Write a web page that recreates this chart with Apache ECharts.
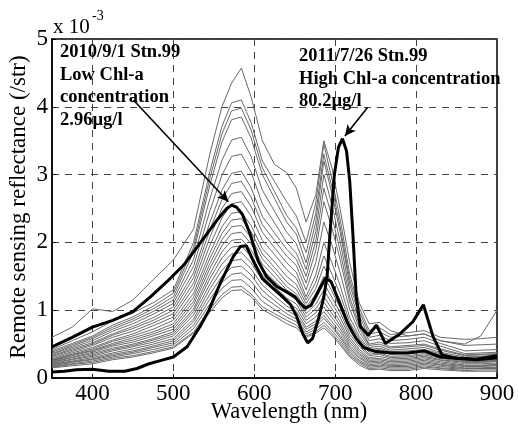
<!DOCTYPE html>
<html><head><meta charset="utf-8">
<script src="https://cdn.jsdelivr.net/npm/echarts@6/dist/echarts.min.js"></script>
<style>html,body{margin:0;padding:0;background:#fff}#c{width:518px;height:426px}</style>
</head><body><div id="c"></div>
<script>
// Wavelength grid for the grey spectra (nm)
const wavelengths = [350,375,400,425,450,475,500,525,545,560,572,584,596,610,625,640,652,664,676,686,696,706,718,730,742,755,768,790,810,830,860,880,900];
// Grey spectra (Rrs x 1e-3)
const grey01 = [.6,.75,1.02,.98,1.15,1.45,1.74,2.2,3.3,4.0,4.35,4.57,4.15,3.5,3.15,3.03,2.8,2.3,2.7,3.5,3.1,2.5,1.7,1.1,.8,.82,.7,.62,.65,.55,.5,.62,1.0];
const grey02 = [.42,.55,.68,.84,.96,1.11,1.3,2.0,3.04,3.71,4.06,4.1,3.77,3.2,2.9,2.6,2.39,2.0,2.58,3.45,2.93,2.35,1.53,1.03,.7,.74,.64,.67,.7,.6,.57,.58,.6];
const grey03 = [.40,.51,.62,.78,.90,1.06,1.25,1.93,2.94,3.6,3.94,3.98,3.66,3.10,2.75,2.4,2.21,1.85,2.43,3.3,2.81,2.24,1.45,.97,.65,.68,.60,.62,.65,.55,.48,.49,.5];
const grey04 = [.38,.49,.60,.75,.87,1.02,1.2,1.86,2.84,3.48,3.81,3.85,3.54,3.0,2.65,2.3,2.12,1.7,2.3,3.2,2.72,2.16,1.38,.91,.6,.63,.55,.57,.6,.51,.40,.41,.42];
const grey05 = [.36,.47,.58,.72,.84,.98,1.15,1.75,2.64,3.21,3.51,3.55,3.27,2.77,2.46,2.15,1.98,1.6,2.16,3.0,2.55,2.02,1.29,.84,.55,.58,.51,.52,.55,.47,.36,.37,.38];
const grey06 = [.35,.45,.55,.69,.80,.94,1.1,1.65,2.46,2.99,3.27,3.3,3.04,2.57,2.29,2.0,1.84,1.5,2.02,2.8,2.38,1.88,1.19,.78,.5,.53,.46,.48,.5,.43,.34,.35,.36];
const grey07 = [.33,.43,.52,.65,.76,.89,1.05,1.55,2.29,2.77,3.02,3.05,2.81,2.38,2.14,1.9,1.75,1.4,1.88,2.6,2.21,1.75,1.12,.73,.48,.5,.44,.46,.48,.41,.33,.34,.35];
const grey08 = [.32,.41,.5,.63,.73,.85,1.0,1.48,2.18,2.63,2.87,2.9,2.67,2.26,2.03,1.8,1.66,1.3,1.7,2.3,1.96,1.56,1.01,.67,.45,.47,.41,.43,.45,.38,.31,.32,.33];
const grey09 = [.3,.39,.48,.6,.69,.81,.95,1.4,2.07,2.5,2.72,2.75,2.53,2.15,1.92,1.7,1.56,1.2,1.52,2.0,1.7,1.37,.89,.61,.42,.44,.39,.4,.42,.36,.29,.29,.3];
const grey10 = [.28,.37,.45,.56,.65,.77,.9,1.33,1.95,2.36,2.57,2.6,2.39,2.03,1.82,1.6,1.47,1.15,1.41,1.8,1.53,1.24,.82,.57,.4,.42,.37,.38,.4,.34,.27,.27,.28];
const grey11 = [.27,.35,.43,.54,.62,.72,.85,1.25,1.84,2.23,2.43,2.45,2.25,1.91,1.71,1.5,1.38,1.1,1.32,1.65,1.4,1.14,.76,.53,.38,.4,.35,.36,.38,.32,.26,.26,.27];
const grey12 = [.26,.34,.41,.51,.59,.68,.8,1.19,1.76,2.13,2.33,2.35,2.16,1.83,1.63,1.42,1.31,1.05,1.23,1.5,1.28,1.04,.7,.49,.35,.37,.32,.33,.36,.31,.25,.25,.26];
const grey13 = [.25,.33,.4,.49,.56,.65,.76,1.13,1.68,2.04,2.23,2.25,2.07,1.76,1.56,1.35,1.24,1.0,1.16,1.4,1.19,.97,.65,.46,.33,.35,.3,.31,.34,.29,.24,.24,.25];
const grey14 = [.24,.31,.38,.47,.53,.62,.72,1.08,1.61,1.95,2.13,2.15,1.98,1.68,1.49,1.3,1.2,.95,1.09,1.3,1.1,.9,.6,.42,.3,.32,.28,.29,.32,.27,.23,.23,.24];
const grey15 = [.23,.3,.36,.44,.5,.58,.68,1.02,1.53,1.86,2.03,2.05,1.89,1.6,1.43,1.25,1.15,.9,1.02,1.2,1.02,.83,.56,.39,.28,.29,.26,.27,.3,.26,.21,.21,.22];
const grey16 = [.22,.28,.34,.42,.48,.56,.65,.98,1.46,1.77,1.93,1.95,1.79,1.52,1.35,1.18,1.09,.85,.96,1.12,.95,.78,.52,.36,.26,.27,.24,.25,.28,.24,.19,.19,.2];
const grey17 = [.21,.27,.32,.4,.46,.53,.62,.93,1.38,1.68,1.83,1.85,1.7,1.44,1.28,1.12,1.03,.8,.9,1.05,.89,.73,.48,.34,.24,.25,.22,.23,.26,.22,.18,.18,.19];
const grey18 = [.2,.25,.3,.37,.43,.5,.58,.87,1.31,1.59,1.73,1.75,1.61,1.37,1.21,1.06,.98,.75,.84,.98,.83,.68,.45,.31,.22,.23,.2,.21,.24,.2,.17,.17,.18];
const grey19 = [.19,.24,.28,.35,.4,.47,.55,.83,1.23,1.5,1.63,1.65,1.52,1.29,1.14,1.0,.92,.72,.8,.92,.78,.63,.42,.29,.2,.21,.18,.19,.22,.19,.15,.15,.16];
const grey20 = [.18,.23,.27,.33,.38,.45,.52,.78,1.16,1.41,1.53,1.55,1.43,1.21,1.08,.95,.87,.68,.76,.88,.75,.6,.39,.26,.18,.19,.17,.17,.2,.17,.14,.14,.15];
const grey21 = [.17,.21,.25,.31,.36,.42,.49,.73,1.09,1.32,1.44,1.45,1.33,1.13,1.01,.9,.83,.65,.72,.82,.7,.56,.36,.24,.16,.17,.15,.15,.18,.15,.13,.14,.14];
const grey22 = [.16,.2,.23,.29,.33,.39,.46,.68,1.01,1.23,1.34,1.35,1.24,1.05,.95,.85,.78,.62,.68,.78,.66,.52,.33,.22,.14,.15,.13,.13,.16,.14,.11,.12,.12];
const grey23 = [.15,.18,.21,.27,.31,.37,.44,.66,.97,1.18,1.29,1.3,1.2,1.01,.91,.8,.74,.6,.66,.74,.63,.49,.31,.19,.12,.13,.11,.11,.14,.12,.1,.1,.1];
const greySpectra = [grey01,grey02,grey03,grey04,grey05,grey06,grey07,grey08,grey09,grey10,grey11,grey12,grey13,grey14,grey15,grey16,grey17,grey18,grey19,grey20,grey21,grey22,grey23];

// Low Chl-a spectrum (2010/9/1 Stn.99)
const lowChlWave = [350,375,400,425,450,472,492,513,533,554,566,572,578,585,595,605,615,628,640,650,657,663,670,680,688,695,705,715,725,735,750,770,790,810,830,850,875,900];
const lowChlRrs  = [0.46,0.6,0.75,0.85,0.98,1.2,1.42,1.67,1.99,2.33,2.5,2.55,2.52,2.42,2.12,1.72,1.5,1.35,1.27,1.2,1.1,1.03,1.07,1.3,1.47,1.42,1.12,0.82,0.6,0.45,0.39,0.37,0.37,0.4,0.31,0.29,0.27,0.3];
// High Chl-a spectrum (2011/7/26 Stn.99)
const highChlWave = [350,365,380,400,420,440,455,470,485,500,517,533,544,558,574,583,590,600,610,620,635,645,652,660,666,672,680,686,690,694,699,704,709,714,718,722,726,731,741,751,762,780,796,809,821,832,850,875,900];
const highChlRrs  = [0.09,0.1,0.12,0.13,0.1,0.1,0.14,0.21,0.26,0.31,0.46,0.76,1.0,1.4,1.79,1.94,1.95,1.7,1.47,1.36,1.2,1.08,0.92,0.65,0.52,0.58,0.9,1.2,1.5,2.2,3.0,3.4,3.53,3.35,2.9,2.1,1.2,0.76,0.63,0.78,0.51,0.65,0.83,1.08,0.61,0.34,0.29,0.28,0.33];

// Annotation texts and arrow endpoints (data coords)
const lowChlText = ['2010/9/1 Stn.99','Low Chl-a','concentration','2.96\u00b5g/l'];
const highChlText = ['2011/7/26 Stn.99','High Chl-a concentration','80.2\u00b5g/l'];
const lowArrow = [[450.6, 4.1],[568, 2.6]];
const highArrow = [[740, 3.99],[712, 3.57]];

const FONT = '"Liberation Serif","Times New Roman",serif';
const chart = echarts.init(document.getElementById('c'), null, {renderer:'canvas'});

const series = [];
greySpectra.forEach((s, i) => {
  series.push({
    type:'line', name:'g'+i, showSymbol:false, symbol:'none', silent:true,
    lineStyle:{color:'#6a6a6a', width:1}, z:2,
    data: wavelengths.map((w, j) => [w, s[j]])
  });
});
function arrowLine(a){
  return {silent:true, symbol:['none','arrow'], symbolSize:[8,11], label:{show:false},
    lineStyle:{color:'#000', width:1.6, type:'solid'},
    data:[[{coord:a[0]},{coord:a[1]}]]};
}
series.push({
  type:'line', name:'low', showSymbol:false, symbol:'none', z:5,
  lineStyle:{color:'#000', width:3}, data: lowChlWave.map((w,j)=>[w, lowChlRrs[j]]),
  markLine: arrowLine(lowArrow)
});
series.push({
  type:'line', name:'high', showSymbol:false, symbol:'none', z:5,
  lineStyle:{color:'#000', width:3}, data: highChlWave.map((w,j)=>[w, highChlRrs[j]]),
  markLine: arrowLine(highArrow)
});

const option = {
  animation:false,
  backgroundColor:'#fff',
  grid:{left:52, right:21, top:39, bottom:48, show:true, borderColor:'#000', borderWidth:1.5, backgroundColor:'transparent'},
  xAxis:{type:'value', min:350, max:900, splitNumber:5,
    axisLine:{show:true, lineStyle:{color:'#000', width:1.5}},
    axisTick:{show:true, inside:true, length:4, lineStyle:{color:'#000'}},
    axisLabel:{color:'#000', fontFamily:FONT, fontSize:23, margin:4, showMinLabel:false},
    splitLine:{show:true, lineStyle:{color:'#444', type:[7,6], width:1}}
  },
  yAxis:{type:'value', min:0, max:5, interval:1,
    axisLine:{show:true, lineStyle:{color:'#000', width:1.5}},
    axisTick:{show:true, inside:true, length:4, lineStyle:{color:'#000'}},
    axisLabel:{color:'#000', fontFamily:FONT, fontSize:23, margin:4},
    splitLine:{show:true, lineStyle:{color:'#444', type:[7,6], width:1}}
  },
  series: series,
  graphic:[
    {type:'text', x:19, y:207, rotation:Math.PI/2, z:10,
      style:{text:'Remote sensing reflectance (/str)', font:'23px '+FONT, fill:'#000', textAlign:'center', textVerticalAlign:'middle'}},
    {type:'text', x:289, y:412, z:10,
      style:{text:'Wavelength (nm)', font:'22.5px '+FONT, fill:'#000', textAlign:'center', textVerticalAlign:'middle'}},
    {type:'text', x:53, y:27, z:10,
      style:{text:'x 10', font:'21px '+FONT, fill:'#000', textAlign:'left', textVerticalAlign:'middle'}},
    {type:'text', x:92, y:16, z:10,
      style:{text:'-3', font:'14px '+FONT, fill:'#000', textAlign:'left', textVerticalAlign:'middle'}},
    {type:'text', x:60, y:41, z:10,
      style:{text:lowChlText.join('\n'), font:'bold 18.5px '+FONT, lineHeight:22.5, fill:'#000', textAlign:'left', textVerticalAlign:'top'}},
    {type:'text', x:299, y:45, z:10,
      style:{text:highChlText.join('\n'), font:'bold 18.5px '+FONT, lineHeight:22.5, fill:'#000', textAlign:'left', textVerticalAlign:'top'}}
  ]
};
chart.setOption(option);
</script></body></html>
